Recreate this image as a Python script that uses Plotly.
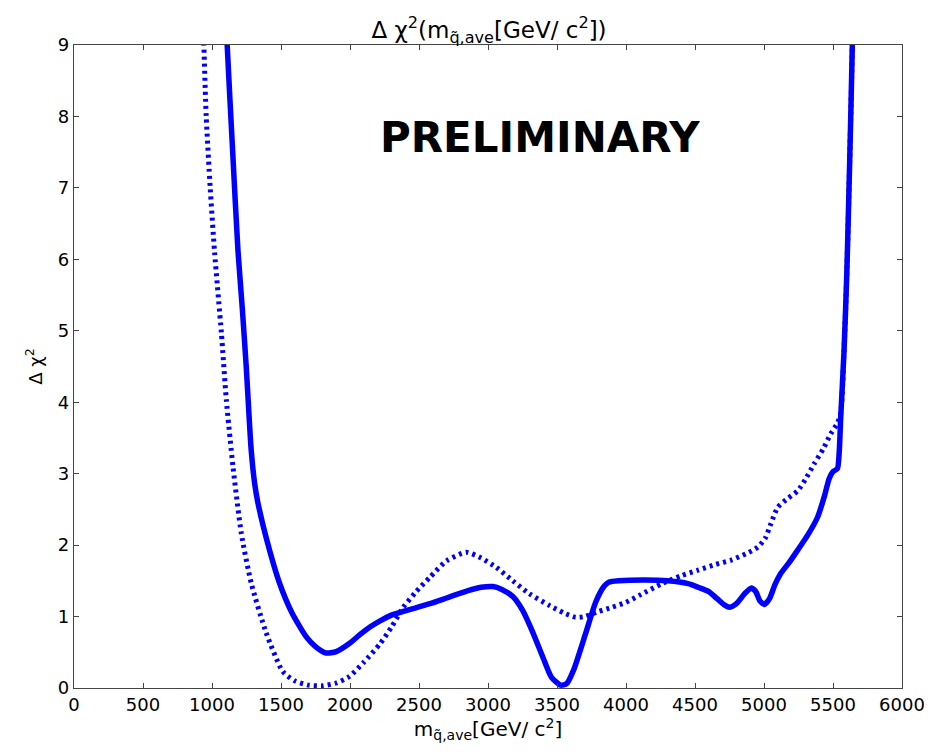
import plotly.graph_objects as go

# Solid curve (Delta chi^2 vs m)
solid_x = [1080, 1110, 1150, 1188, 1220, 1248, 1284, 1310, 1333, 1400, 1489, 1580, 1682, 1750, 1826,
           1900, 2000, 2067, 2150, 2218, 2300, 2400, 2579, 2700, 2850, 2950, 3035, 3100, 3180,
           3250, 3320, 3400, 3460, 3527, 3570, 3620, 3707, 3780, 3840, 3875, 3950, 4139, 4300,
           4450, 4523, 4600, 4660, 4715, 4752, 4800, 4860, 4908, 4940, 4970, 5004, 5040, 5080,
           5120, 5180, 5244, 5320, 5388, 5440, 5472, 5500, 5532, 5545, 5556, 5580, 5600, 5620,
           5640, 5650]
solid_y = [10.5, 9.0, 7.5, 6.13, 5.3, 4.5, 3.33, 2.85, 2.59, 2.05, 1.47, 1.05, 0.72, 0.58, 0.49,
           0.51, 0.63, 0.74, 0.86, 0.94, 1.02, 1.08, 1.18, 1.26, 1.36, 1.41, 1.42, 1.38, 1.28,
           1.09, 0.8, 0.42, 0.15, 0.04, 0.06, 0.25, 0.76, 1.2, 1.42, 1.48, 1.5, 1.51, 1.5,
           1.46, 1.41, 1.35, 1.25, 1.16, 1.13, 1.18, 1.32, 1.4, 1.35, 1.22, 1.17, 1.25, 1.45,
           1.6, 1.75, 1.93, 2.15, 2.39, 2.7, 2.93, 3.03, 3.07, 3.3, 3.79, 4.72, 5.8, 7.3,
           9.0, 10.5]

# Dotted curve
dot_x = [920, 941, 958, 987, 1019, 1068, 1104, 1152, 1212, 1284, 1393, 1513, 1600, 1700, 1800,
         1900, 1995, 2100, 2218, 2300, 2386, 2480, 2579, 2700, 2843, 2950, 3059, 3180, 3299,
         3450, 3550, 3635, 3700, 3800, 3899, 4000, 4100, 4259, 4400, 4523, 4650, 4762, 4870,
         4955, 5010, 5050, 5100, 5170, 5244, 5300, 5364, 5430, 5484, 5530, 5556, 5580, 5600,
         5620, 5640, 5650]
dot_y = [10.5, 9.0, 8.0, 7.0, 6.09, 4.97, 4.03, 3.10, 2.17, 1.47, 0.77, 0.23, 0.1, 0.04, 0.03,
         0.07, 0.16, 0.36, 0.62, 0.85, 1.13, 1.35, 1.55, 1.78, 1.9, 1.82, 1.69, 1.5, 1.32,
         1.15, 1.05, 0.99, 1.0, 1.07, 1.13, 1.2, 1.3, 1.46, 1.57, 1.65, 1.73, 1.79, 1.88,
         1.97, 2.1, 2.3, 2.53, 2.65, 2.76, 2.92, 3.14, 3.35, 3.56, 3.7, 3.85, 4.72, 5.8,
         7.3, 9.0, 10.5]

x_ticks = [0, 500, 1000, 1500, 2000, 2500, 3000, 3500, 4000, 4500, 5000, 5500, 6000]
y_ticks = [0, 1, 2, 3, 4, 5, 6, 7, 8, 9]

FONT = "DejaVu Sans, Liberation Sans, Arial, sans-serif"

fig = go.Figure()
fig.add_trace(go.Scatter(x=dot_x, y=dot_y, mode="lines",
                         line=dict(color="#0000ff", width=5, dash="3px,4px", shape="spline", smoothing=0.6),
                         showlegend=False))
fig.add_trace(go.Scatter(x=solid_x, y=solid_y, mode="lines",
                         line=dict(color="#0000ff", width=5.5, shape="spline", smoothing=0.6),
                         showlegend=False))

fig.add_annotation(x=3376, y=7.7, xref="x", yref="y", text="<b>PRELIMINARY</b>",
                   showarrow=False, font=dict(family=FONT, size=42, color="black"))

axis_common = dict(showgrid=False, zeroline=False, showline=True, linecolor="#444444",
                   linewidth=1.3, mirror="ticks", ticks="inside", ticklen=5, tickcolor="#444444",
                   tickfont=dict(family=FONT, size=18, color="black"))

fig.update_layout(
    width=937, height=752,
    margin=dict(l=74, r=33, t=45, b=64),
    plot_bgcolor="white", paper_bgcolor="white",
    title=dict(text="Δ χ<sup>2</sup>(m<sub>q̃,ave</sub>[GeV/ c<sup>2</sup>])",
               x=(74 + 904) / 2 / 937, xanchor="center", y=1 - 30 / 752, yanchor="middle",
               font=dict(family=FONT, size=23, color="black")),
    xaxis=dict(range=[0, 6000], tickvals=x_ticks, ticktext=[str(v) for v in x_ticks],
               title=dict(text="m<sub>q̃,ave</sub>[GeV/ c<sup>2</sup>]", standoff=4,
                          font=dict(family=FONT, size=20, color="black")),
               **axis_common),
    yaxis=dict(range=[0, 9], tickvals=y_ticks, ticktext=[str(v) for v in y_ticks],
               title=dict(text="Δ χ<sup>2</sup>", standoff=10,
                          font=dict(family=FONT, size=18, color="black")),
               **axis_common),
)

fig.write_html("out.html")
